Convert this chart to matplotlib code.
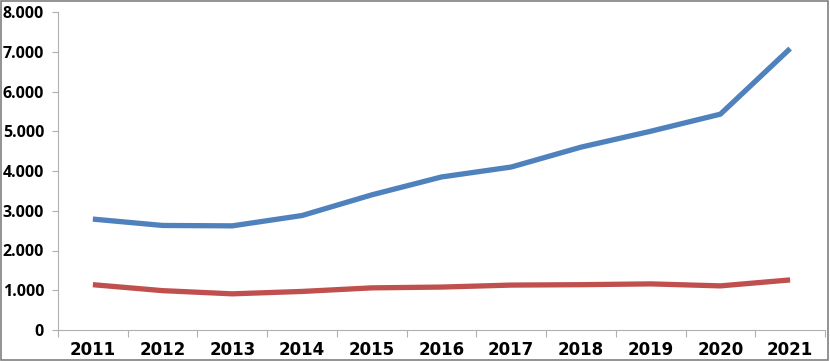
import matplotlib
matplotlib.use("Agg")
import matplotlib.pyplot as plt
from matplotlib.patches import Rectangle
from matplotlib.ticker import FixedLocator, FuncFormatter

years = ["2011", "2012", "2013", "2014", "2015", "2016", "2017", "2018", "2019", "2020", "2021"]
series_blue = [2790, 2630, 2620, 2880, 3400, 3850, 4100, 4600, 5000, 5430, 7080]
series_red = [1140, 990, 910, 970, 1060, 1080, 1130, 1140, 1160, 1110, 1260]
yticks = [0, 1000, 2000, 3000, 4000, 5000, 6000, 7000, 8000]

fig = plt.figure(figsize=(8.3, 3.61), dpi=100)
ax = fig.add_axes([58/830, 31/361, 767/830, 318/361])
x = list(range(len(years)))
ax.plot(x, series_blue, color="#4F81BD", lw=3.8, solid_capstyle="butt", solid_joinstyle="round")
ax.plot(x, series_red, color="#C0504D", lw=3.8, solid_capstyle="butt", solid_joinstyle="round")

ax.set_xlim(-0.5, len(years) - 0.5)
ax.set_ylim(0, 8000)
ax.set_yticks(yticks)
ax.yaxis.set_major_formatter(FuncFormatter(lambda v, p: "0" if v == 0 else f"{int(v):,}".replace(",", ".")))
ax.set_xticks(x)
ax.set_xticklabels(years)
ax.xaxis.set_minor_locator(FixedLocator([i - 0.5 for i in range(len(years) + 1)]))
ax.tick_params(axis="x", which="major", length=0, pad=8)
ax.tick_params(axis="x", which="minor", length=5, color="#B0B0B0", width=0.8)
ax.tick_params(axis="y", length=4, color="#B0B0B0", width=0.8, pad=6)
for lab in ax.get_xticklabels():
    lab.set_fontfamily(["Liberation Sans Narrow", "DejaVu Sans"])
    lab.set_fontweight("bold")
    lab.set_fontsize(12)
for lab in ax.get_yticklabels():
    lab.set_fontfamily(["Open Sans", "DejaVu Sans"])
    lab.set_fontweight("bold")
    lab.set_fontsize(11.5)
for s in ["top", "right"]:
    ax.spines[s].set_visible(False)
for s in ["left", "bottom"]:
    ax.spines[s].set_color("#B0B0B0")
    ax.spines[s].set_linewidth(0.8)

fig.patches.append(Rectangle((0.001, 0.003), 0.997, 0.995, transform=fig.transFigure,
                             fill=False, edgecolor="#808080", lw=1.2))
fig.savefig("out.png", dpi=100)
